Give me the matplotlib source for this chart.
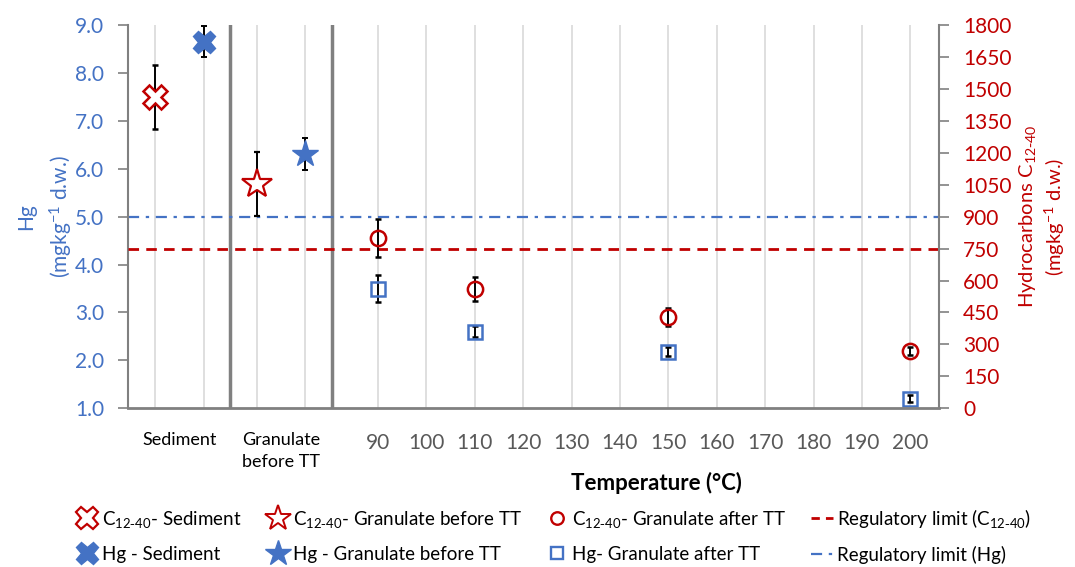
import numpy as np
import matplotlib.pyplot as plt
from matplotlib.lines import Line2D
from matplotlib.transforms import blended_transform_factory

plt.rcParams['font.family'] = ['Lato', 'DejaVu Sans']
plt.rcParams['mathtext.default'] = 'regular'

BLUE = '#4472C4'
RED = '#C00000'
GREY = '#808080'

# positions of the two untreated sample groups on the x axis
sed_x = [44, 54]      # C12-40, Hg
gran_x = [65, 75]     # C12-40, Hg
group_label_x = [49, 70]
group_labels = ['Sediment', 'Granulate\nbefore TT']
separators = [59.5, 80.5]

# sediment
c_sed, c_sed_err = 1460, 150
hg_sed, hg_sed_err = 8.65, 0.32
# granulate before thermal treatment
c_gran, c_gran_err = 1055, 150
hg_gran, hg_gran_err = 6.31, 0.33
# granulate after thermal treatment
temps = [90, 110, 150, 200]
c_after = [800, 560, 430, 270]
c_after_err = [88, 57, 42, 20]
hg_after = [3.5, 2.6, 2.18, 1.2]
hg_after_err = [0.28, 0.12, 0.09, 0.07]
temp_ticks = list(range(90, 201, 10))

hg_limit = 5.0
c_limit = 750

C = r'C$_{12\text{-}40}$'

fig = plt.figure(figsize=(10.75, 5.67), dpi=100)
ax = fig.add_axes([0.1188, 0.2799, 0.7550, 0.6760])
ax2 = ax.twinx()

ax.set_xlim(38.3, 206)
ax.set_ylim(1, 9)
ax2.set_ylim(0, 1800)

# vertical grid at every sample position
ax.set_xticks(sed_x + gran_x + temp_ticks)
ax.set_xticklabels([''] * 4 + [str(t) for t in temp_ticks])
ax.grid(axis='x', color='#D9D9D9', lw=1.2)
ax.set_axisbelow(True)
ax.tick_params(axis='x', length=0, pad=18, labelsize=15, labelcolor='#595959')

for s in separators:
    ax.axvline(s, color=GREY, lw=2.5, zorder=1.5)

# regulatory limits
ax.axhline(hg_limit, color=BLUE, lw=1.6, dashes=(5, 3, 1.5, 3))
ax2.axhline(c_limit, color=RED, lw=2, dashes=(3.8, 2.6))

eb = dict(ecolor='black', elinewidth=1.4, capsize=2.5, capthick=1.4, ls='none')

# Hg series (left axis)
ax.errorbar(sed_x[1], hg_sed, yerr=hg_sed_err, marker='X', ms=16,
            mfc=BLUE, mec=BLUE, **eb)
ax.errorbar(gran_x[1], hg_gran, yerr=hg_gran_err, marker='*', ms=20,
            mfc=BLUE, mec=BLUE, **eb)
ax.errorbar(temps, hg_after, yerr=hg_after_err, marker='s', ms=10,
            mfc='none', mec=BLUE, mew=1.8, **eb)

# C12-40 series (right axis)
ax2.errorbar(sed_x[0], c_sed, yerr=c_sed_err, marker='X', ms=17,
             mfc='white', mec=RED, mew=1.8, **eb)
ax2.errorbar(gran_x[0], c_gran, yerr=c_gran_err, marker='*', ms=22,
             mfc='white', mec=RED, mew=1.6, **eb)
ax2.errorbar(temps, c_after, yerr=c_after_err, marker='o', ms=11,
             mfc='none', mec=RED, mew=1.8, **eb)

# axes styling
ax.set_yticks(np.arange(1, 9.01, 1))
ax.set_yticklabels([f'{v:.1f}' for v in np.arange(1, 9.01, 1)])
ax.tick_params(axis='y', colors=GREY, labelcolor=BLUE, labelsize=15,
               length=7, width=1.2, pad=10)
ax2.set_yticks(range(0, 1801, 150))
ax2.tick_params(axis='y', colors=GREY, labelcolor=RED, labelsize=15,
                length=7, width=1.2, pad=10)

for a in (ax, ax2):
    a.spines['top'].set_visible(False)
ax.spines['left'].set_color(GREY)
ax.spines['left'].set_linewidth(1.5)
ax.spines['bottom'].set_color(GREY)
ax.spines['bottom'].set_linewidth(2)
ax.spines['right'].set_visible(False)
ax2.spines['left'].set_visible(False)
ax2.spines['bottom'].set_visible(False)
ax2.spines['right'].set_color(GREY)
ax2.spines['right'].set_linewidth(1.5)

ax.set_ylabel('Hg\n(mgkg$^{-1}$ d.w.)', color=BLUE, fontsize=15,
              labelpad=0, linespacing=1.55)
ax2.set_ylabel('Hydrocarbons ' + C + '\n(mgkg$^{-1}$ d.w.)', color=RED,
               fontsize=14.5, labelpad=4, linespacing=1.25)

trans = blended_transform_factory(ax.transData, ax.transAxes)
for x, lab in zip(group_label_x, group_labels):
    ax.text(x, -0.063, lab, transform=trans, ha='center', va='top',
            fontsize=13, color='black', linespacing=1.4)
ax.text(147.5, -0.195, 'Temperature (°C)', transform=trans, ha='center',
        va='center', fontsize=16, fontweight='bold')

# legend
handles = [
    Line2D([], [], ls='none', marker='X', ms=16, mfc='white', mec=RED, mew=1.6),
    Line2D([], [], ls='none', marker='X', ms=16, mfc=BLUE, mec=BLUE),
    Line2D([], [], ls='none', marker='*', ms=19, mfc='white', mec=RED, mew=1.4),
    Line2D([], [], ls='none', marker='*', ms=19, mfc=BLUE, mec=BLUE),
    Line2D([], [], ls='none', marker='o', ms=9, mfc='none', mec=RED, mew=1.7),
    Line2D([], [], ls='none', marker='s', ms=9, mfc='none', mec=BLUE, mew=1.7),
    Line2D([], [], color=RED, lw=2, dashes=(3, 2.2)),
    Line2D([], [], color=BLUE, lw=1.6, dashes=(5, 3, 1.5, 3)),
]
labels = [
    C + '- Sediment', 'Hg - Sediment',
    C + '- Granulate before TT', 'Hg - Granulate before TT',
    C + '- Granulate after TT', 'Hg- Granulate after TT',
    'Regulatory limit (' + C + ')', 'Regulatory limit (Hg)',
]
fig.legend(handles, labels, ncol=4, loc='center', bbox_to_anchor=(0.515, 0.056),
           frameon=False, fontsize=13.5, handlelength=1.2, handletextpad=0.2,
           columnspacing=1.3, labelspacing=0.85)

fig.savefig('out.png', dpi=100)
